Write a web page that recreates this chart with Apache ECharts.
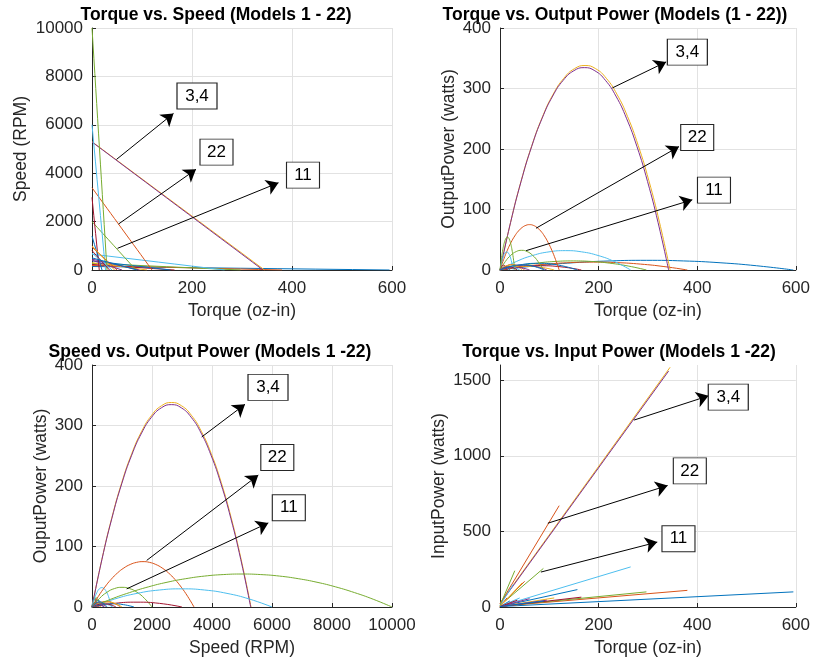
<!DOCTYPE html>
<html>
<head>
<meta charset="utf-8">
<title>Motor models 1 - 22</title>
<script src="https://cdn.jsdelivr.net/npm/echarts@6/dist/echarts.min.js"></script>
<style>
html,body{margin:0;padding:0;background:#fff;}
#main{width:813px;height:664px;}
</style>
</head>
<body>
<div id="main"></div>
<script>
// matlab default colour order, one per model
var modelColors = ['#0072BD','#D95319','#EDB120','#7E2F8E','#77AC30','#4DBEEE','#A2142F',
	'#0072BD','#D95319','#EDB120','#7E2F8E','#77AC30','#4DBEEE','#A2142F',
	'#0072BD','#D95319','#EDB120','#7E2F8E','#77AC30','#4DBEEE','#A2142F','#0072BD'];

// torque (oz-in) sample points per model
var torquePts = [
	[0,74.4,148.8,223.1,297.5,371.9,446.3,520.6,595],
	[0,47.5,95,142.5,190,237.5,285,332.5,380],
	[0,21.6,43.1,64.7,86.3,107.8,129.4,150.9,172.5,194.1,215.6,237.2,258.8,280.3,301.9,323.4,345],
	[0,21.4,42.75,64.1,85.5,106.9,128.25,149.6,171,192.4,213.75,235.1,256.5,277.9,299.25,320.6,342],
	[0,37.1,74.3,111.4,148.5,185.6,222.8,259.9,297],
	[0,33.1,66.3,99.4,132.5,165.6,198.8,231.9,265],
	[0,41.25,82.5,123.75,165],
	[0,39.25,78.5,117.75,157],
	[0,7.5,15,22.5,30,37.5,45,52.5,60,67.5,75,82.5,90,97.5,105,112.5,120],
	[0,27.5,55,82.5,110],
	[0,23.75,47.5,71.25,95],
	[0,11,22,33,44,55,66,77,88],
	[0,3.4,6.8,10.1,13.5,16.9,20.3,23.6,27],
	[0,3.6,7.25,10.9,14.5],
	[0,5,10,15,20],
	[0,12.5,25,37.5,50],
	[0,11.25,22.5,33.75,45],
	[0,15,30,45,60],
	[0,1.875,3.75,5.625,7.5,9.375,11.25,13.125,15,16.875,18.75,20.625,22.5,24.375,26.25,28.125,30],
	[0,10,20,30,40],
	[0,8.75,17.5,26.25,35],
	[0,22.5,45,67.5,90]
];
// speed (RPM) at the same points
var speedPts = [
	[145,126.9,108.8,90.6,72.5,54.4,36.3,18.1,0],
	[185,161.9,138.8,115.6,92.5,69.4,46.3,23.1,0],
	[5300,4968.75,4637.5,4306.25,3975,3643.75,3312.5,2981.25,2650,2318.75,1987.5,1656.25,1325,993.75,662.5,331.25,0],
	[5290,4959.4,4628.75,4298.1,3967.5,3636.9,3306.25,2975.6,2645,2314.4,1983.75,1653.1,1322.5,991.9,661.25,330.6,0],
	[275,240.6,206.3,171.9,137.5,103.1,68.8,34.4,0],
	[655,573.1,491.3,409.4,327.5,245.6,163.8,81.9,0],
	[230,172.5,115,57.5,0],
	[380,285,190,95,0],
	[3400,3187.5,2975,2762.5,2550,2337.5,2125,1912.5,1700,1487.5,1275,1062.5,850,637.5,425,212.5,0],
	[300,225,150,75,0],
	[450,337.5,225,112.5,0],
	[2000,1750,1500,1250,1000,750,500,250,0],
	[6000,5250,4500,3750,3000,2250,1500,750,0],
	[3000,2250,1500,750,0],
	[1400,1050,700,350,0],
	[950,712.5,475,237.5,0],
	[1000,750,500,250,0],
	[400,300,200,100,0],
	[10000,9375,8750,8125,7500,6875,6250,5625,5000,4375,3750,3125,2500,1875,1250,625,0],
	[700,525,350,175,0],
	[800,600,400,200,0],
	[500,375,250,125,0]
];
// output power (watts) at the same points
var outPower = [
	[0,7,12,15,16,15,12,7,0],
	[0,5.7,9.75,12.2,13,12.2,9.75,5.7,0],
	[0,79.2,147.9,206.0,253.5,290.5,316.9,332.7,338,332.7,316.9,290.5,253.5,206.0,147.9,79.2,0],
	[0,78.4,146.3,203.8,250.9,287.5,313.6,329.3,334.5,329.3,313.6,287.5,250.9,203.8,146.3,78.4,0],
	[0,6.6,11.25,14.1,15,14.1,11.25,6.6,0],
	[0,14,24,30,32,30,24,14,0],
	[0,5.25,7,5.25,0],
	[0,8.25,11,8.25,0],
	[0,17.6,32.8,45.7,56.3,64.5,70.3,73.8,75,73.8,70.3,64.5,56.3,45.7,32.8,17.6,0],
	[0,4.6,6.1,4.6,0],
	[0,5.9,7.9,5.9,0],
	[0,14.2,24.4,30.5,32.5,30.5,24.4,14.2,0],
	[0,13.1,22.5,28.1,30,28.1,22.5,13.1,0],
	[0,6,8,6,0],
	[0,3.9,5.2,3.9,0],
	[0,6.6,8.8,6.6,0],
	[0,6.2,8.3,6.2,0],
	[0,3.3,4.4,3.3,0],
	[0,12.8,23.8,33.2,40.9,46.8,51.1,53.6,54.5,53.6,51.1,46.8,40.9,33.2,23.8,12.8,0],
	[0,3.9,5.2,3.9,0],
	[0,3.9,5.2,3.9,0],
	[0,6.2,8.3,6.2,0]
];
// input power (watts) at no load / at stall
var inPower = [
	[3,100],[5,110],[25,1585],[20,1560],[5,100],[5,265],[3,65],[3,115],[20,670],[3,60],[3,45],
	[10,255],[10,150],[5,60],[3,40],[5,170],[5,160],[3,55],[10,240],[3,60],[3,45],[3,40]
];

// annotation labels and arrows (data coords of each panel)
var noteText = ['3,4','22','11'];
var noteSize = [[40,26],[33,26],[33,26]];
var arrowsTS = [[[49,4570],[163,6470]],[[53,1900],[208,4160]],[[51,895],[373,3605]]];
var boxesTS = [[210,7190],[249,4870],[422,3920]];
var arrowsTP = [[[228,301],[337,344]],[[73,69],[363,204]],[[53,32],[390,116]]];
var boxesTP = [[380,360],[400,219],[434,132]];
var arrowsSP = [[[3657,281],[5100,335]],[[1823,77],[5543,218]],[[1157,30],[5877,139]]];
var boxesSP = [[5867,363],[6177,247],[6560,164]];
var arrowsTI = [[[272,1236],[423,1396]],[[97,554],[340,803]],[[83,231],[319,429]]];
var boxesTI = [[463,1388],[385,900],[362,451]];

var FONT = '"Liberation Sans", Arial, Helvetica, sans-serif';
var INK = '#262626';

function pairs(a, b) {
	var out = [];
	for (var i = 0; i < a.length; i++) out.push([a[i], b[i]]);
	return out;
}

function axis(gi, min, max, interval, name, gap, isY) {
	var even = max % interval == 0;
	return {
		type: 'value', gridIndex: gi, min: min, max: max, interval: interval,
		name: name, nameLocation: 'middle', nameGap: gap,
		nameTextStyle: {fontSize: 17.5, color: INK, fontFamily: FONT},
		axisLine: {show: true, onZero: false, lineStyle: {color: INK, width: 1}},
		axisTick: {show: true, inside: true, length: 4, lineStyle: {color: INK}},
		axisLabel: {fontSize: 17, color: INK, fontFamily: FONT, margin: isY ? 9 : 10,
			showMaxLabel: even,
			formatter: function (v) { return String(v); }},
		splitLine: {show: true, showMaxLine: even, lineStyle: {color: '#e2e2e2', width: 1}}
	};
}

function notes(gi, arrows, boxes) {
	var lines = [], pts = [];
	for (var i = 0; i < arrows.length; i++) {
		lines.push([{coord: arrows[i][0]}, {coord: arrows[i][1]}]);
		pts.push({name: noteText[i], coord: boxes[i], symbolSize: noteSize[i]});
	}
	return {
		type: 'line', xAxisIndex: gi, yAxisIndex: gi, data: [], z: 10, silent: true,
		markLine: {
			silent: true, symbol: ['none', 'arrow'], symbolSize: 12, animation: false,
			label: {show: false},
			lineStyle: {color: '#000', width: 1, type: 'solid'},
			data: lines
		},
		markPoint: {
			silent: true, symbol: 'rect', animation: false,
			itemStyle: {color: '#fff', borderColor: INK, borderWidth: 1},
			label: {show: true, position: 'inside', formatter: '{b}', color: '#000', fontSize: 17, fontFamily: FONT},
			data: pts
		}
	};
}

var series = [];
for (var i = 0; i < torquePts.length; i++) {
	var c = modelColors[i];
	var n = torquePts[i].length - 1;
	var base = {type: 'line', symbol: 'none', silent: true, lineStyle: {width: 1, color: c}, itemStyle: {color: c}};
	series.push(Object.assign({}, base, {xAxisIndex: 0, yAxisIndex: 0, data: pairs(torquePts[i], speedPts[i])}));
	series.push(Object.assign({}, base, {xAxisIndex: 1, yAxisIndex: 1, smooth: true, data: pairs(torquePts[i], outPower[i])}));
	series.push(Object.assign({}, base, {xAxisIndex: 2, yAxisIndex: 2, smooth: true, data: pairs(speedPts[i], outPower[i])}));
	series.push(Object.assign({}, base, {xAxisIndex: 3, yAxisIndex: 3,
		data: [[torquePts[i][0], inPower[i][0]], [torquePts[i][n], inPower[i][1]]]}));
}
series.push(notes(0, arrowsTS, boxesTS));
series.push(notes(1, arrowsTP, boxesTP));
series.push(notes(2, arrowsSP, boxesSP));
series.push(notes(3, arrowsTI, boxesTI));

function title(x, y, text) {
	return {
		type: 'text', x: x, y: y, silent: true,
		style: {text: text, fill: '#000', font: 'bold 17.5px ' + FONT,
			textAlign: 'center', textVerticalAlign: 'middle', align: 'center', verticalAlign: 'middle'}
	};
}

var chart = echarts.init(document.getElementById('main'));
chart.setOption({
	animation: false,
	backgroundColor: '#fff',
	grid: [
		{left: 92, top: 28, width: 300, height: 242},
		{left: 500, top: 28, width: 300, height: 242},
		{left: 92, top: 365, width: 300, height: 242},
		{left: 500, top: 365, width: 300, height: 242}
	],
	xAxis: [
		axis(0, 0, 600, 200, 'Torque (oz-in)', 32, false),
		axis(1, 0, 600, 200, 'Torque (oz-in)', 32, false),
		axis(2, 0, 10000, 2000, 'Speed (RPM)', 32, false),
		axis(3, 0, 600, 200, 'Torque (oz-in)', 32, false)
	],
	yAxis: [
		axis(0, 0, 10000, 2000, 'Speed (RPM)', 62, true),
		axis(1, 0, 400, 100, 'OutputPower (watts)', 42, true),
		axis(2, 0, 400, 100, 'OuputPower (watts)', 42, true),
		axis(3, 0, 1600, 500, 'InputPower (watts)', 52, true)
	],
	graphic: [
		title(216, 15, 'Torque vs. Speed (Models 1 - 22)'),
		title(615, 15, 'Torque vs. Output Power (Models (1 - 22))'),
		title(210, 352, 'Speed vs. Output Power (Models 1 -22)'),
		title(619, 352, 'Torque vs. Input Power (Models 1 -22)')
	],
	series: series
});
</script>
</body>
</html>
